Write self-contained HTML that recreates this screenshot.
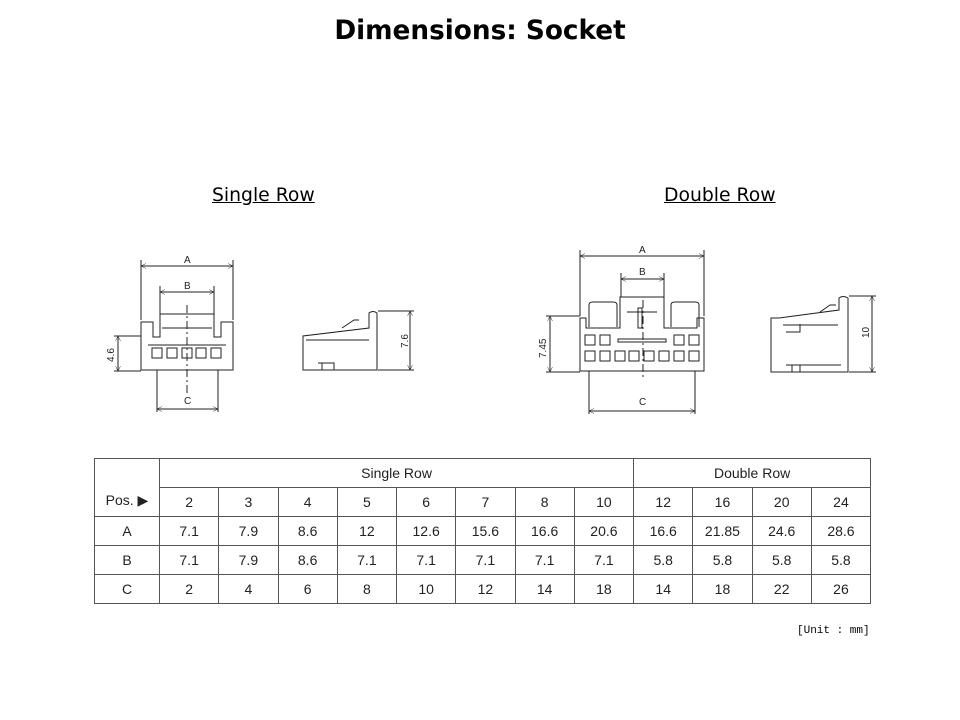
<!DOCTYPE html>
<html><head><meta charset="utf-8"><style>
body{margin:0;width:960px;height:720px;background:#fff;font-family:"Liberation Sans",sans-serif;position:relative;overflow:hidden}
.t{position:absolute;left:0;width:960px;top:16px;text-align:center;font-weight:bold;font-size:26.3px;color:#000;font-family:"DejaVu Sans",sans-serif}
.lab{position:absolute;font-size:18.8px;text-decoration:underline;color:#000;font-family:"DejaVu Sans",sans-serif}
table{position:absolute;left:94px;top:458px;border-collapse:collapse;font-size:14px;color:#222;table-layout:fixed;width:776px}
td{border:1.5px solid #555;text-align:center;height:28px;padding:0}
.u{position:absolute;left:797px;top:625px;font-family:"Liberation Mono",monospace;font-size:11px}
</style></head><body>
<div class="t">Dimensions: Socket</div>
<div class="lab" style="left:212px;top:185px">Single Row</div>
<div class="lab" style="left:664px;top:185px">Double Row</div>
<svg width="960" height="720" style="position:absolute;left:0;top:0" fill="none" stroke="#222" stroke-width="1" font-family="Liberation Sans" font-size="10">
<defs><marker id="a" viewBox="0 0 10 10" refX="10" refY="5" markerWidth="7" markerHeight="5" orient="auto-start-reverse"><path d="M0,0L10,5L0,10" stroke="#222" fill="none"/></marker></defs>
<line x1="141" y1="266" x2="233" y2="266" marker-start="url(#a)" marker-end="url(#a)"/>
<line x1="141" y1="260" x2="141" y2="320"/><line x1="233" y1="260" x2="233" y2="320"/>
<text x="184" y="263" fill="#222" stroke="none">A</text>
<line x1="160" y1="292" x2="214" y2="292" marker-start="url(#a)" marker-end="url(#a)"/>
<line x1="160" y1="286" x2="160" y2="314"/><line x1="214" y1="286" x2="214" y2="314"/>
<text x="184" y="289" fill="#222" stroke="none">B</text>
<path d="M141,370V322h12v15h7V314h54v23h7V322h12v48Z"/>
<path d="M148,345h78M162,328h50"/>
<line x1="187" y1="305" x2="187" y2="395" stroke-dasharray="8 3 2 3"/>
<g><rect x="152" y="348" width="10" height="10"/><rect x="167" y="348" width="10" height="10"/><rect x="182" y="348" width="10" height="10"/><rect x="196" y="348" width="10" height="10"/><rect x="211" y="348" width="10" height="10"/></g>
<line x1="157" y1="370" x2="157" y2="412"/><line x1="218" y1="370" x2="218" y2="412"/>
<line x1="157" y1="409" x2="218" y2="409" marker-start="url(#a)" marker-end="url(#a)"/>
<text x="184" y="404" fill="#222" stroke="none">C</text>
<line x1="114" y1="336" x2="141" y2="336"/><line x1="114" y1="371" x2="141" y2="371"/>
<line x1="118" y1="336" x2="118" y2="371" marker-start="url(#a)" marker-end="url(#a)"/>
<text transform="translate(114,362) rotate(-90)" fill="#222" stroke="none">4.6</text>
<path d="M303,370V336l66,-8V313q4,-3 8,0V370Z"/><path d="M306,340h63M318,363h16v7M322,363v7M342,328l12,-8h5"/>
<line x1="378" y1="311" x2="414" y2="311"/><line x1="378" y1="370" x2="414" y2="370"/>
<line x1="410" y1="311" x2="410" y2="370" marker-start="url(#a)" marker-end="url(#a)"/>
<text transform="translate(408,348) rotate(-90)" fill="#222" stroke="none">7.6</text>
<line x1="580" y1="256" x2="704" y2="256" marker-start="url(#a)" marker-end="url(#a)"/>
<line x1="580" y1="250" x2="580" y2="316"/><line x1="704" y1="250" x2="704" y2="316"/>
<text x="639" y="253" fill="#222" stroke="none">A</text>
<line x1="621" y1="279" x2="664" y2="279" marker-start="url(#a)" marker-end="url(#a)"/>
<line x1="621" y1="273" x2="621" y2="297"/><line x1="664" y1="273" x2="664" y2="297"/>
<text x="639" y="275" fill="#222" stroke="none">B</text>
<path d="M580,371V318h6v10h34V297h44v31h33V318h7v53Z"/>
<path d="M589,327V305q0,-3 4,-3h20q4,0 4,3v22M671,327V305q0,-3 4,-3h20q4,0 4,3v22M627,312h30M638,308h4v20h-4z"/>
<line x1="643" y1="300" x2="643" y2="378" stroke-dasharray="8 3 2 3"/>
<rect x="618" y="339" width="48" height="3"/>
<g>
<rect x="585" y="335" width="10" height="10"/><rect x="600" y="335" width="10" height="10"/><rect x="674" y="335" width="10" height="10"/><rect x="689" y="335" width="10" height="10"/>
<rect x="585" y="351" width="10" height="10"/><rect x="600" y="351" width="10" height="10"/><rect x="615" y="351" width="10" height="10"/><rect x="629" y="351" width="10" height="10"/><rect x="644" y="351" width="10" height="10"/><rect x="659" y="351" width="10" height="10"/><rect x="674" y="351" width="10" height="10"/><rect x="689" y="351" width="10" height="10"/>
</g>
<line x1="589" y1="371" x2="589" y2="414"/><line x1="695" y1="371" x2="695" y2="414"/>
<line x1="589" y1="411" x2="695" y2="411" marker-start="url(#a)" marker-end="url(#a)"/>
<text x="639" y="405" fill="#222" stroke="none">C</text>
<line x1="546" y1="316" x2="580" y2="316"/><line x1="546" y1="372" x2="580" y2="372"/>
<line x1="550" y1="316" x2="550" y2="372" marker-start="url(#a)" marker-end="url(#a)"/>
<text transform="translate(546,358) rotate(-90)" fill="#222" stroke="none">7.45</text>
<path d="M771,372V318h8l60,-8V298q4,-3 9,0V372Z"/><path d="M783,325h55M786,332h14v-8M786,365h14v7M792,365v7M786,365h55M820,312l10,-7h6"/>
<line x1="849" y1="296" x2="876" y2="296"/><line x1="849" y1="372" x2="876" y2="372"/>
<line x1="872" y1="296" x2="872" y2="372" marker-start="url(#a)" marker-end="url(#a)"/>
<text transform="translate(869,338) rotate(-90)" fill="#222" stroke="none">10</text>
</svg>
<table>
<colgroup><col style="width:65px"><col span="12" style="width:59.25px"></colgroup>
<tr><td rowspan="2" style="vertical-align:bottom;padding-bottom:7px">Pos. &#9654;</td><td colspan="8">Single Row</td><td colspan="4">Double Row</td></tr>
<tr><td>2</td><td>3</td><td>4</td><td>5</td><td>6</td><td>7</td><td>8</td><td>10</td><td>12</td><td>16</td><td>20</td><td>24</td></tr>
<tr><td>A</td><td>7.1</td><td>7.9</td><td>8.6</td><td>12</td><td>12.6</td><td>15.6</td><td>16.6</td><td>20.6</td><td>16.6</td><td>21.85</td><td>24.6</td><td>28.6</td></tr>
<tr><td>B</td><td>7.1</td><td>7.9</td><td>8.6</td><td>7.1</td><td>7.1</td><td>7.1</td><td>7.1</td><td>7.1</td><td>5.8</td><td>5.8</td><td>5.8</td><td>5.8</td></tr>
<tr><td>C</td><td>2</td><td>4</td><td>6</td><td>8</td><td>10</td><td>12</td><td>14</td><td>18</td><td>14</td><td>18</td><td>22</td><td>26</td></tr>
</table>
<div class="u">[Unit : mm]</div>
</body></html>
